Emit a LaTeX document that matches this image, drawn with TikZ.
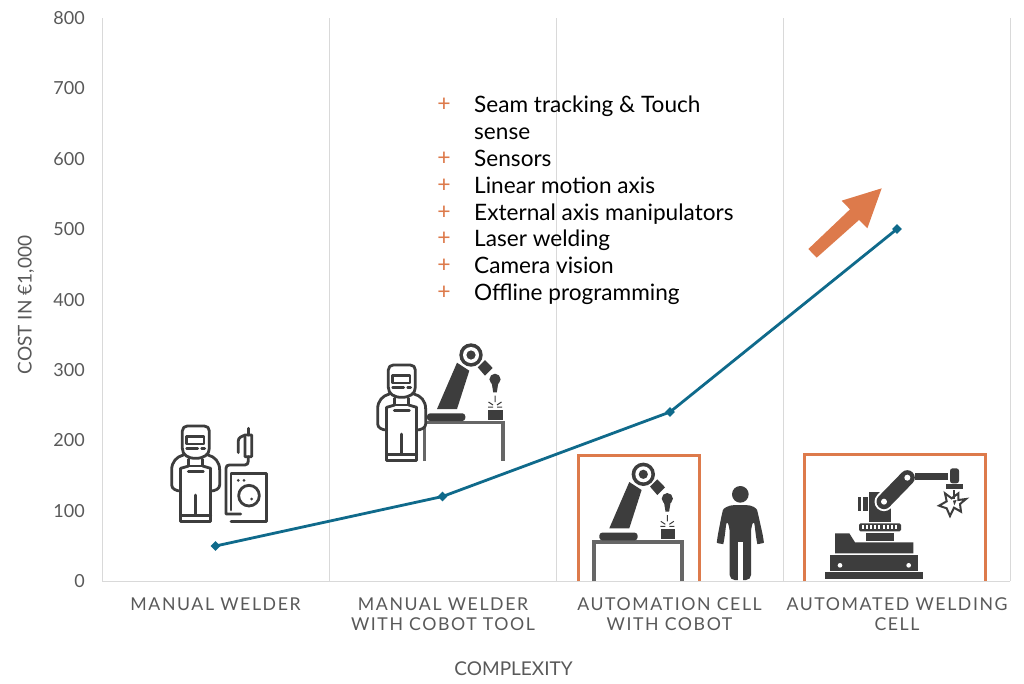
\documentclass[tikz,border=0pt]{standalone}
\usepackage{fontspec}
\setmainfont{Lato}
\newfontfamily\spacedfont[LetterSpace=9]{Lato}
\usetikzlibrary{shapes.geometric}
\definecolor{gridc}{HTML}{D9D9D9}
\definecolor{axtext}{HTML}{595959}
\definecolor{linec}{HTML}{0F6A8B}
\definecolor{orng}{HTML}{DD7A4B}
\definecolor{icon}{HTML}{3D3D3D}
\definecolor{tablec}{HTML}{666666}
\tikzset{
  grid line/.style={draw=gridc,line width=1pt},
  tick/.style={text=axtext,font=\fontsize{18}{18}\selectfont,anchor=east,inner sep=0pt},
  cat/.style={text=axtext,font=\spacedfont\fontsize{17.7}{20.5}\selectfont,align=center,anchor=center,inner sep=0pt},
  axt/.style={text=axtext,font=\fontsize{19}{19}\selectfont,inner sep=0pt},
  pt/.style={shape=diamond,fill=linec,minimum width=10pt,minimum height=10pt,inner sep=0pt},
  series/.style={draw=linec,line width=2.8pt},
  plusm/.style={text=orng,font=\fontsize{23}{23}\selectfont,inner sep=0pt},
  item/.style={text=black,font=\fontsize{22.6}{22.6}\selectfont,anchor=base west,inner sep=0pt},
  ob/.style={draw=orng,line width=3pt},
  zm/.style={x=.33333pt,y=-.33333pt},
  wk/.style={draw=icon,line width=2.8pt,line join=round,line cap=round},
  tbl/.style={draw=tablec,line width=3.6pt},
}
\newcommand{\workerfig}{%
  \fill[white] (65,410) -- (97,380) -- (178,380) -- (210,410) -- (210,470) -- (182,483) -- (182,575) -- (92,575) -- (92,483) -- (65,470) -- cycle;
  \draw[wk] (112,288) -- (163,288) .. controls (172,288) and (178,294) .. (178,303) -- (178,355) .. controls (178,375) and (160,385) .. (137,385) .. controls (114,385) and (97,375) .. (97,355) -- (97,303) .. controls (97,294) and (103,288) .. (112,288) -- cycle;
  \draw[wk] (110,319) rectangle (162,342);
  \draw[wk] (110,356) -- (143,356) (155,356) -- (164,356);
  \draw[wk] (100,375) .. controls (80,380) and (65,395) .. (65,420) -- (65,465) .. controls (65,476) and (78,483) .. (92,483);
  \draw[wk] (174,375) .. controls (194,380) and (209,395) .. (209,420) -- (209,465) .. controls (209,476) and (196,483) .. (182,483);
  \draw[wk] (92,415) -- (92,575) -- (182,575) -- (182,415);
  \draw[wk] (116,388) -- (116,408) -- (158,408) -- (158,388);
  \draw[wk] (92,415) -- (116,408) (182,415) -- (158,408);
  \draw[wk] (115,425) -- (160,425);
  \draw[wk] (137,495) -- (137,556);
  \draw[wk] (92,556) -- (182,556);
}
\newcommand{\cobotarm}{%
  \fill[icon] (-34,54) -- (-14,7.7) -- (-1.7,15.7) -- (-14,54) -- cycle;
  \fill[white] (0,0) circle (13.3);
  \fill[icon] (0,0) circle (11.7);
  \fill[white] (0,0) circle (8);
  \fill[icon] (0,0) circle (4.6);
  \fill[icon] (6.7,12.3) -- (14,5) -- (21.7,13) -- (14,20.7) -- cycle;
  \fill[icon] (24,24.3) circle (5.6);
  \fill[icon] (20.7,28) -- (22.2,37.3) -- (25.8,37.3) -- (27.3,28) -- cycle;
  \draw[icon,line width=1pt] (24,40.7) -- (24,47) (17.5,47) -- (22,50) (30.5,47) -- (26,50) (17,52) -- (22,52) (31,52) -- (26,52);
  \fill[icon] (17.3,55) rectangle (31.7,65);
  \fill[icon,rounded corners=3pt] (-44,66) -- (-44,58.3) -- (-5.7,58.3) -- (-5.7,66) -- cycle;
}
\begin{document}
\begin{tikzpicture}[x=1pt,y=-1pt]
\useasboundingbox (0,0) rectangle (1024,683);
\fill[white] (0,0) rectangle (1024,683);
% grid
\coordinate (g0t) at (102,18); \coordinate (g0b) at (102,581);
\coordinate (g1t) at (329,18); \coordinate (g1b) at (329,581);
\coordinate (g2t) at (556,18); \coordinate (g2b) at (556,581);
\coordinate (g3t) at (783,18); \coordinate (g3b) at (783,581);
\coordinate (g4t) at (1010,18); \coordinate (g4b) at (1010,581);
\draw[grid line] (g0t) -- (g0b);
\draw[grid line] (g1t) -- (g1b);
\draw[grid line] (g2t) -- (g2b);
\draw[grid line] (g3t) -- (g3b);
\draw[grid line] (g4t) -- (g4b);
\draw[grid line] (g0b) -- (g4b);
% ticks
\node[tick] (t0) at (85,581) {0};
\node[tick] (t1) at (85,511) {100};
\node[tick] (t2) at (85,440.5) {200};
\node[tick] (t3) at (85,370) {300};
\node[tick] (t4) at (85,300) {400};
\node[tick] (t5) at (85,229) {500};
\node[tick] (t6) at (85,159) {600};
\node[tick] (t7) at (85,88) {700};
\node[tick] (t8) at (85,18) {800};
\node[axt,rotate=90] (ylab) at (26,305) {COST IN €1,000};
\node[axt] (xlab) at (513.5,669) {COMPLEXITY};
\node[cat] (c1) at (215.5,604) {MANUAL WELDER};
\node[cat] (c2) at (443,614) {MANUAL WELDER\\WITH COBOT TOOL};
\node[cat] (c3) at (669.5,614) {AUTOMATION CELL\\WITH COBOT};
\node[cat] (c4) at (897,614) {AUTOMATED WELDING\\CELL};
% list
\foreach \n/\y in {a/105,c/159,d/186,e/212.5,f/239,g/266,h/293}{\node[plusm] (plus\n) at (444,\y) {+};}
\node[item] (la) at (474,112.5) {Seam tracking \& Touch};
\node[item] (lb) at (474,139.5) {sense};
\node[item] (lc) at (474,166.5) {Sensors};
\node[item] (ld) at (474,193.5) {Linear motion axis};
\node[item] (le) at (474,220) {External axis manipulators};
\node[item] (lf) at (474,246.5) {Laser welding};
\node[item] (lg) at (474,273.5) {Camera vision};
\node[item] (lh) at (474,300.5) {Offline programming};
% arrow
\begin{scope}[shift={(790,170)},zm]
\fill[orng] (55,237) -- (180,118) -- (155,92) -- (275,55) -- (232,175) -- (207,150) -- (80,263) -- cycle;
\end{scope}
% worker 1 and machine
\begin{scope}[shift={(150,330)},zm]
\workerfig
\draw[wk] (243,575) -- (350,575) -- (350,430) -- (243,430) -- (243,540);
\fill[icon] (265,451) circle (4.5) (282,451) circle (4.5);
\draw[wk] (297,497) circle (31);
\fill[icon] (305,507) circle (4.5);
\draw[wk] (272,552) -- (228,552) -- (228,415) .. controls (228,408) and (232,405) .. (238,405) -- (285,405) .. controls (292,405) and (295,400) .. (295,392) -- (295,380);
\draw[wk] (265,368) -- (265,332) .. controls (265,322) and (275,320) .. (285,315) -- (305,315) -- (305,380) -- (285,380) -- (285,322);
\draw[wk] (295,295) -- (295,315);
\end{scope}
% worker 2 and cobot
\draw[tbl] (424.5,461) -- (424.5,422.5) -- (503,422.5) -- (503,461);
\begin{scope}[shift={(471,355)}]\cobotarm\end{scope}
\begin{scope}[shift={(356,269)},zm]\workerfig\end{scope}
% box 3
\draw[ob] (578,581) -- (578,455) -- (699.5,455) -- (699.5,581);
\draw[tbl] (594,581) -- (594,542) -- (682,542) -- (682,581);
\begin{scope}[shift={(643.3,474.3)}]\cobotarm\end{scope}
\begin{scope}[shift={(570,440)},zm]
\fill[icon] (511,163) circle (25);
\fill[icon,rounded corners=5pt] (479,420) -- (479,262) -- (470,240) -- (463,298) .. controls (460,312) and (440,310) .. (442,293) -- (455,225) .. controls (460,205) and (475,195) .. (511,195) .. controls (547,195) and (560,205) .. (565,225) -- (580,293) .. controls (582,310) and (562,312) .. (559,298) -- (552,240) -- (543,262) -- (543,420) -- cycle;
\fill[white] (505,306) rectangle (518,422);
\end{scope}
% box 4
\draw[ob] (804,581) -- (804,454.5) -- (985,454.5) -- (985,581);
\begin{scope}[shift={(570,440)},zm]
\fill[icon] (765,397) rectangle (1060,418);
\fill[icon] (780,345) rectangle (1045,392);
\fill[white] (810,376) circle (7) (1016,376) circle (7);
\fill[icon] (795,340) -- (795,280) -- (838,280) -- (855,307) -- (1030,307) -- (1030,340) -- cycle;
\fill[icon] (888,280) rectangle (972,302);
\fill[icon,rounded corners=1.5pt] (867,250) rectangle (993,274);
\foreach \i in {0,...,8}{\fill[white] (875+12.5*\i,256) rectangle (881+12.5*\i,268);}
\fill[icon] (898,157) rectangle (962,245);
\fill[icon] (878,170) rectangle (893,212);
\fill[icon] (863,170) rectangle (873,212);
\draw[white,line width=19pt,line cap=round] (942,185) -- (1012,113);
\draw[icon,line width=15pt,line cap=round] (942,185) -- (1012,113);
\fill[white] (942,185) circle (9) (1012,113) circle (9);
\fill[icon] (1035,98) rectangle (1135,120);
\fill[icon,rounded corners=2.5pt] (1140,130) -- (1140,85) -- (1167,85) -- (1167,130) -- cycle;
\fill[icon] (1128,133) rectangle (1178,146);
\draw[icon,line width=2pt,line join=miter] (1107,197) -- (1130,184) -- (1125,160) -- (1145,175) -- (1165,160) -- (1165,180) -- (1188,177) -- (1170,192) -- (1173,215) -- (1152,203) -- (1140,228) -- (1130,205) -- cycle;
\fill[icon] (1148,150) rectangle (1156,178);
\fill[icon] (1149,182) -- (1160,180) -- (1153,196) -- cycle;
\end{scope}
% series
\node[pt] (p1) at (215.5,546) {};
\node[pt] (p2) at (442.5,496.5) {};
\node[pt] (p3) at (670,412) {};
\node[pt] (p4) at (897,229) {};
\draw[series] (p1.center) -- (p2.center) -- (p3.center) -- (p4.center);
\end{tikzpicture}
\end{document}
